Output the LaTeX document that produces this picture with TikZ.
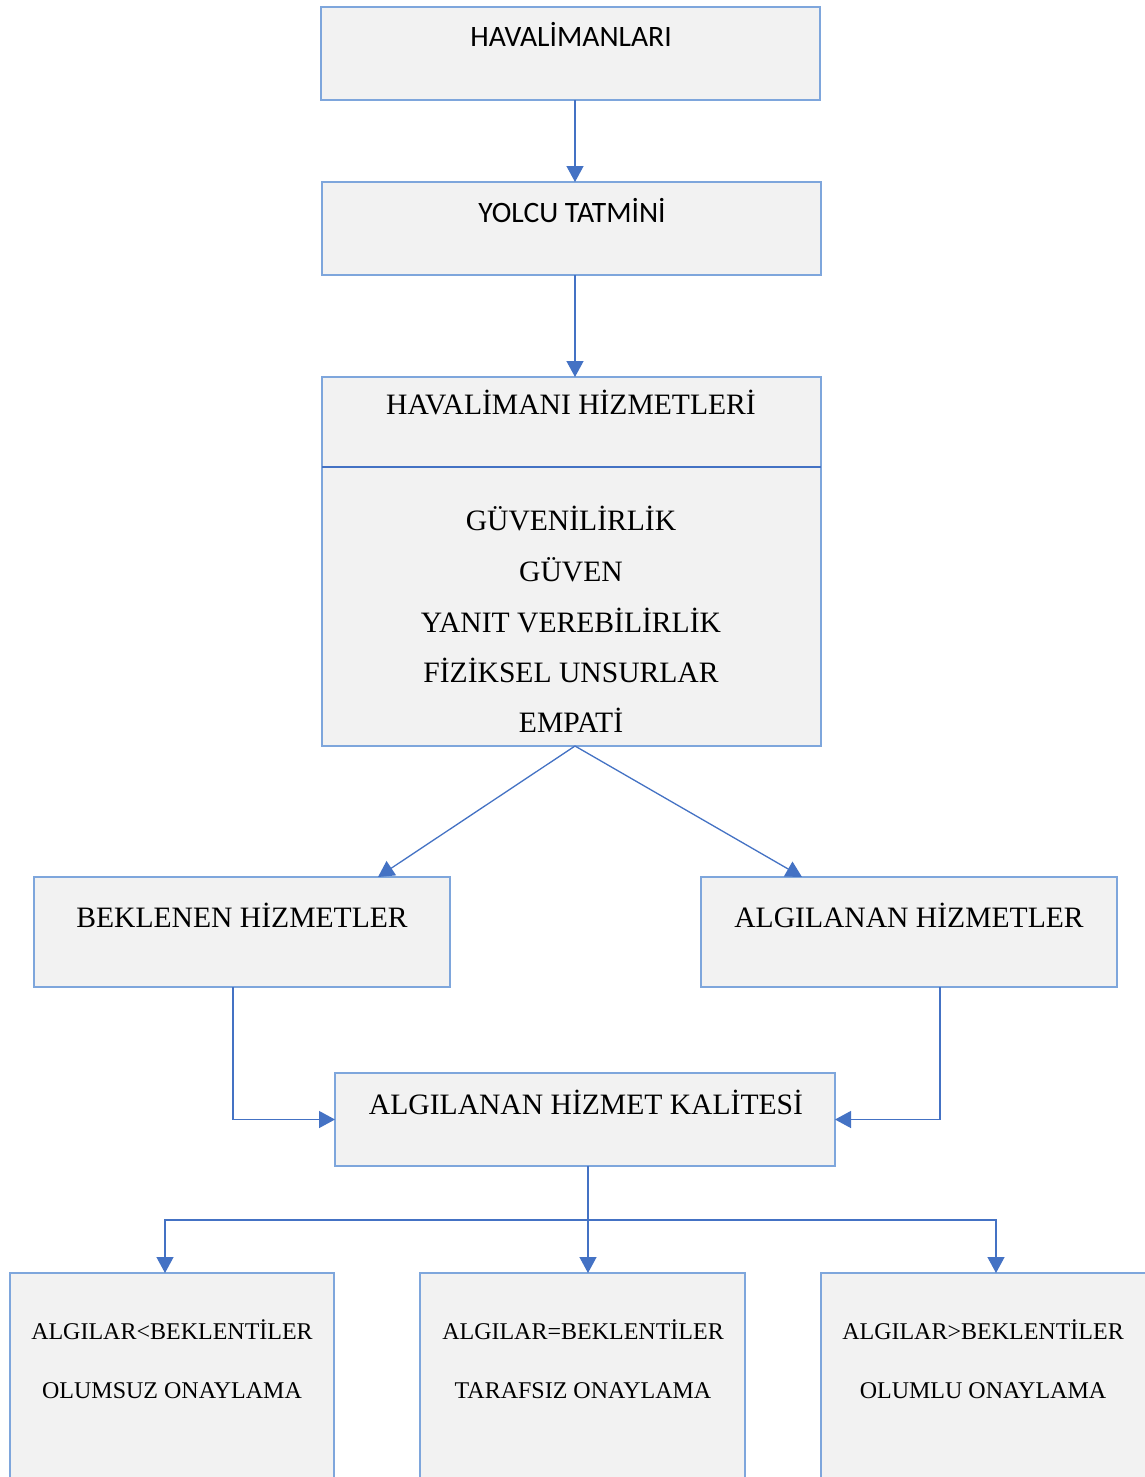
\documentclass[tikz,border=0pt]{standalone}
\usepackage{fontspec}
\setmainfont{Liberation Serif}
\newfontfamily\calib{Carlito}
\usetikzlibrary{arrows.meta}
\definecolor{boxfill}{HTML}{F2F2F2}
\definecolor{boxline}{HTML}{7EA6DC}
\definecolor{linkblue}{HTML}{4472C4}
\tikzset{
  box/.style={draw=boxline, line width=1.3pt, fill=boxfill, inner sep=0pt, outer sep=0pt, anchor=north west},
  big/.style={anchor=base, inner sep=0pt, font=\fontsize{29.6}{34}\selectfont},
  sans/.style={anchor=base, inner sep=0pt, font=\calib\fontsize{29.6}{34}\selectfont},
  small/.style={anchor=base, inner sep=0pt, font=\fontsize{24}{28}\selectfont},
  plainlink/.style={draw=linkblue, line width=1.3pt},
  link/.style={plainlink, -{Triangle[length=16pt,width=17pt]}},
}
\begin{document}
\begin{tikzpicture}[x=1pt,y=-1pt]
\clip (0,0) rectangle (1145,1477);
\fill[white] (0,0) rectangle (1145,1477);

% boxes
\node[box, minimum width=499pt, minimum height=93pt] (b1) at (321,7) {};
\node[box, minimum width=499pt, minimum height=93pt] (b2) at (322,182) {};
\node[box, minimum width=499pt, minimum height=369pt] (b3) at (322,377) {};
\node[box, minimum width=416pt, minimum height=110pt] (b4) at (34,877) {};
\node[box, minimum width=416pt, minimum height=110pt] (b5) at (701,877) {};
\node[box, minimum width=500pt, minimum height=93pt] (b6) at (335,1073) {};
\node[box, minimum width=324pt, minimum height=230pt] (b7) at (10,1273) {};
\node[box, minimum width=325pt, minimum height=230pt] (b8) at (420,1273) {};
\node[box, minimum width=340pt, minimum height=230pt] (b9) at (821,1273) {};

% divider inside the services box
\draw[plainlink] (b3.west |- 0,467) -- (b3.east |- 0,467);

% texts
\node[sans] (t1) at (571,47) {HAVALİMANLARI};
\node[sans] (t2) at (572,222) {YOLCU TATMİNİ};
\node[big] (t3) at (571,414) {HAVALİMANI HİZMETLERİ};
\node[big] (l1) at (571,530) {GÜVENİLİRLİK};
\node[big] (l2) at (571,581) {GÜVEN};
\node[big] (l3) at (571,632) {YANIT VEREBİLİRLİK};
\node[big] (l4) at (571,682) {FİZİKSEL UNSURLAR};
\node[big] (l5) at (571,732) {EMPATİ};
\node[big] (t4) at (242,927) {BEKLENEN HİZMETLER};
\node[big] (t5) at (909,927) {ALGILANAN HİZMETLER};
\node[big] (t6) at (586,1114) {ALGILANAN HİZMET KALİTESİ};
\node[small] (t7a) at (172,1339) {ALGILAR<BEKLENTİLER};
\node[small] (t7b) at (172,1398) {OLUMSUZ ONAYLAMA};
\node[small] (t8a) at (583,1339) {ALGILAR=BEKLENTİLER};
\node[small] (t8b) at (583,1398) {TARAFSIZ ONAYLAMA};
\node[small] (t9a) at (983,1339) {ALGILAR>BEKLENTİLER};
\node[small] (t9b) at (983,1398) {OLUMLU ONAYLAMA};

% connectors
\draw[link] (b1.south -| 575,0) -- (b2.north -| 575,0);
\draw[link] (b2.south -| 575,0) -- (b3.north -| 575,0);
\draw[link] (b3.south -| 575,0) -- (b4.north -| 378,0);
\draw[link] (b3.south -| 575,0) -- (b5.north -| 802,0);
\draw[link] (b4.south -| 233,0) |- (b6.west);
\draw[link] (b5.south -| 940,0) |- (b6.east);
\coordinate (j) at (588,1220);
\draw[link] (b6.south -| 588,0) -- (b8.north -| 588,0);
\draw[link] (j) -| (b7.north -| 165,0);
\draw[link] (j) -| (b9.north -| 996,0);
\end{tikzpicture}
\end{document}
